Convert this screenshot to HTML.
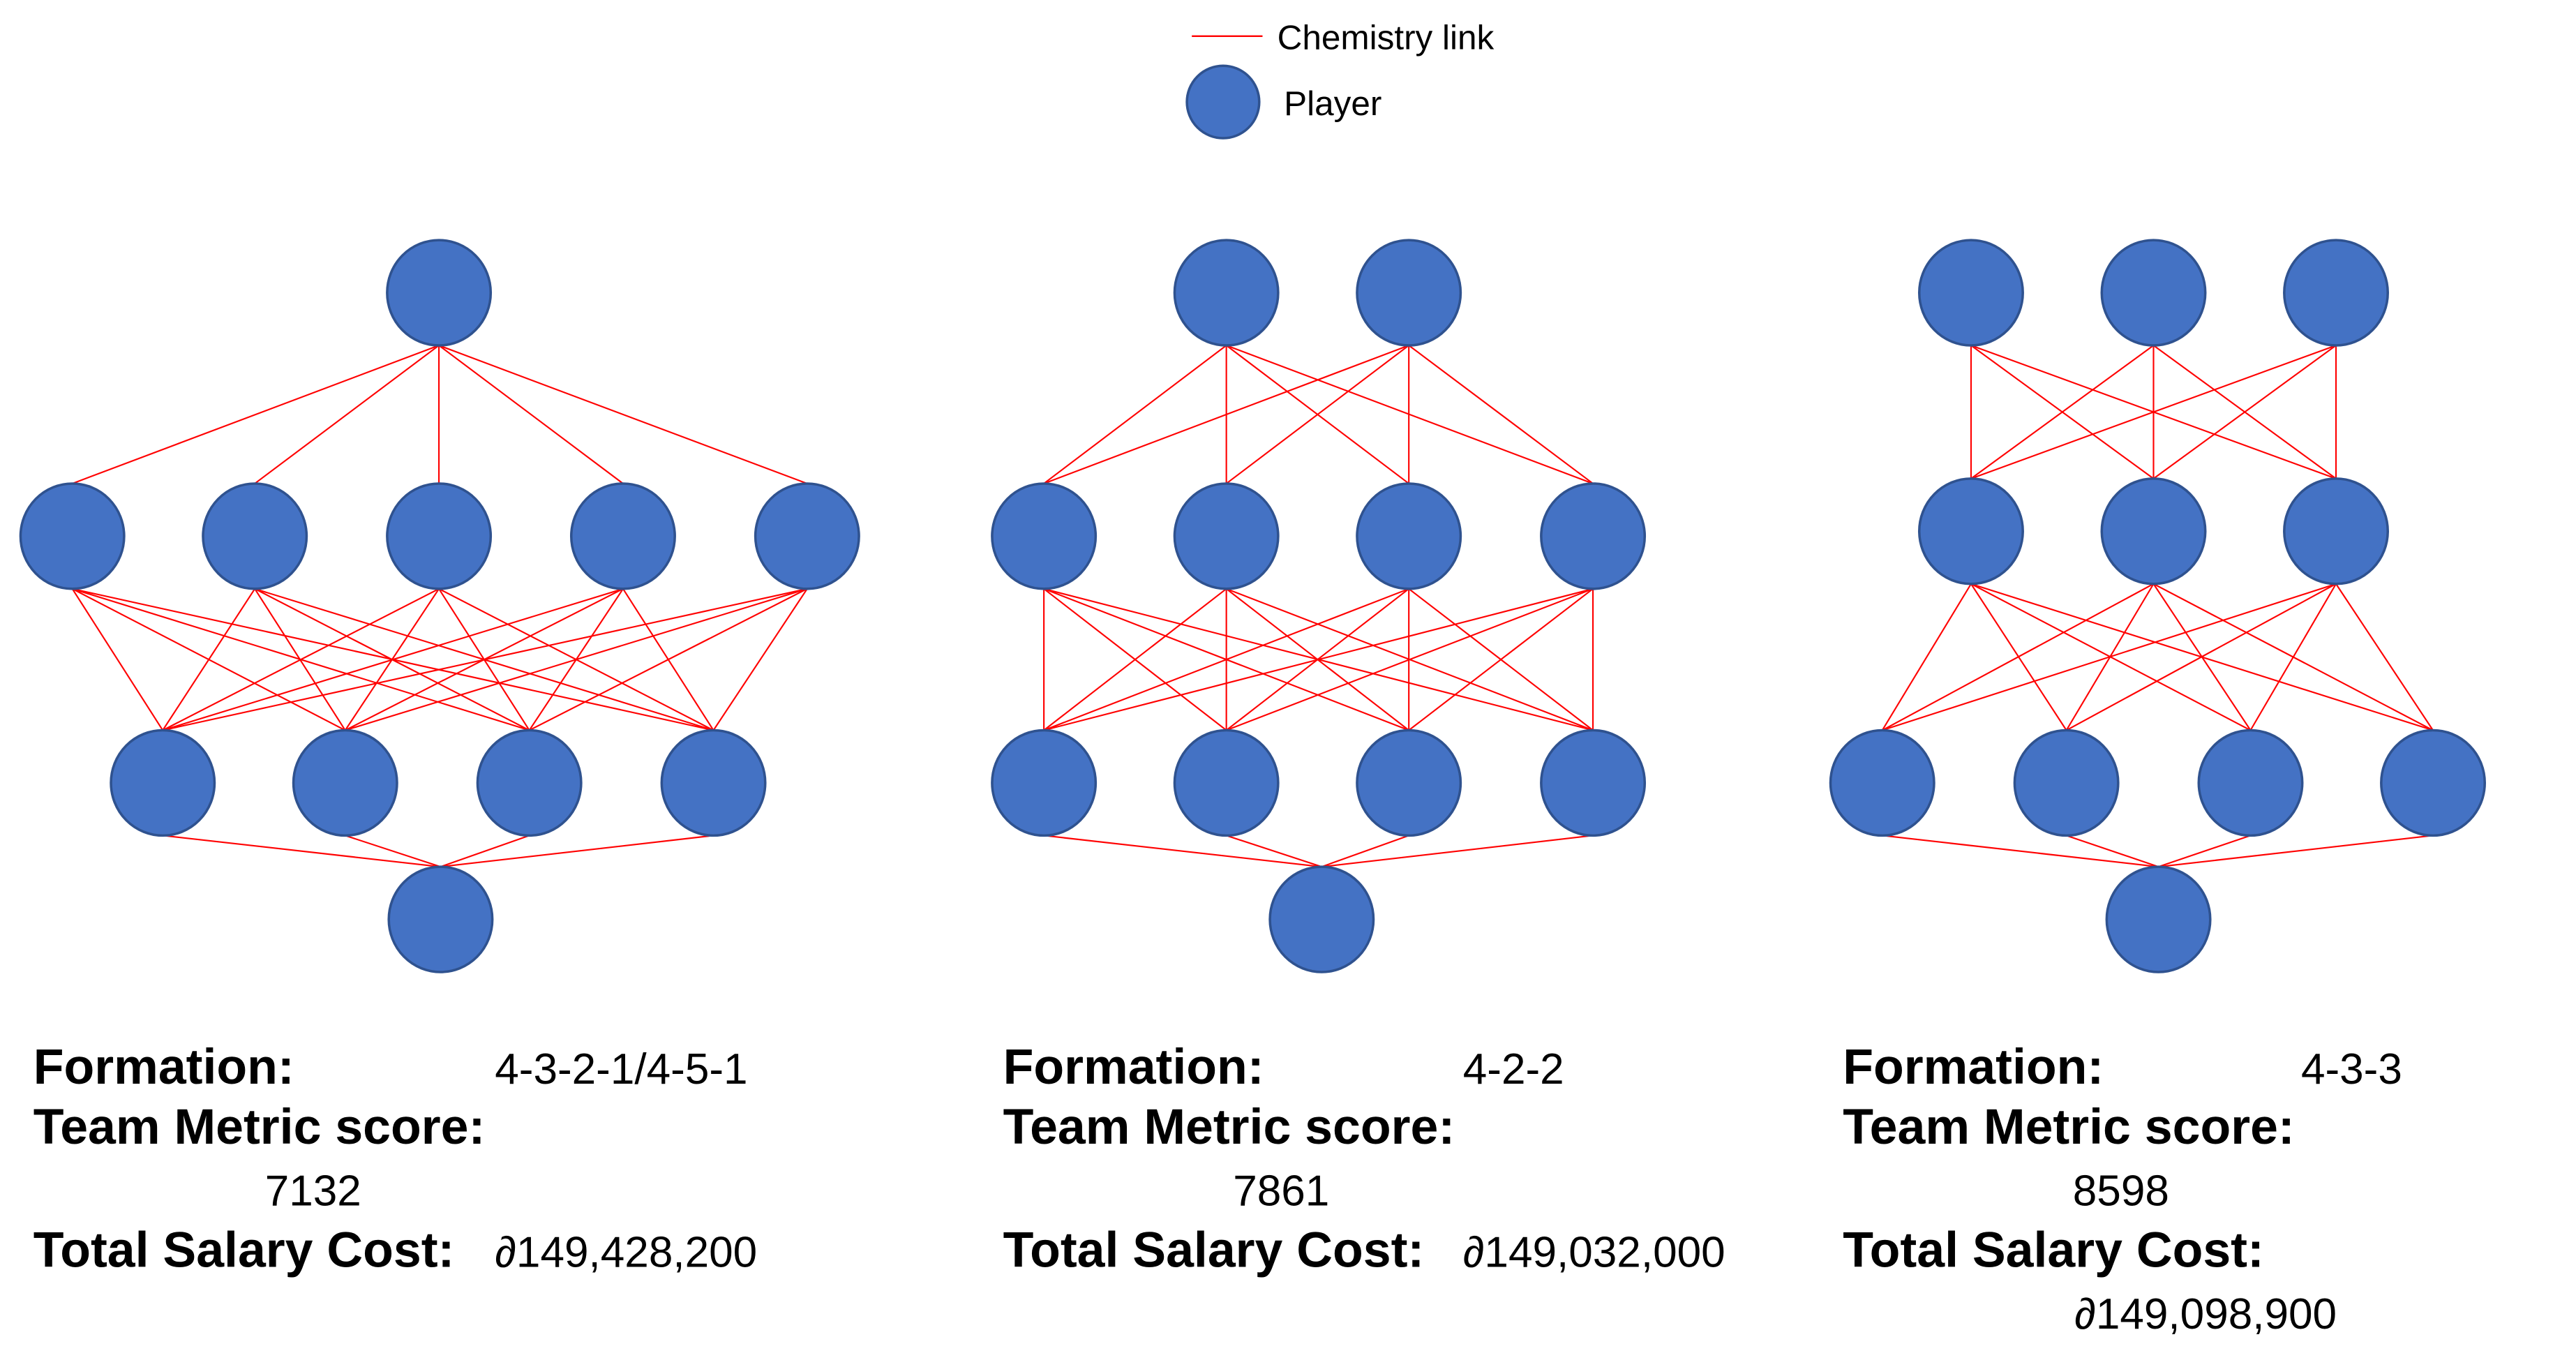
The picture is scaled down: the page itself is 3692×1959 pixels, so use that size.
<!DOCTYPE html>
<html><head><meta charset="utf-8"><style>
html,body{margin:0;padding:0;background:#fff}
svg{display:block}
</style></head><body>
<svg id="chart" width="3692" height="1959" viewBox="0 0 1546 820" preserveAspectRatio="none" xmlns="http://www.w3.org/2000/svg" font-family="Liberation Sans, Arial, sans-serif">
<g transform="scale(0.9866)">
<g>
<line x1="725" y1="22" x2="768" y2="22" stroke="#ff0000" stroke-width="1"/>
<text x="777" y="30" font-size="21">Chemistry link</text>
<ellipse cx="744" cy="62" rx="22" ry="22" fill="#4472C4" stroke="#2F528F" stroke-width="1.5"/>
<text x="781" y="70" font-size="21">Player</text>
</g>
<g id="nets"></g>
</g>
<g font-size="26">
<text x="20" y="650" font-weight="bold" font-size="30">Formation:</text><text x="297" y="650">4-3-2-1/4-5-1</text>
<text x="20" y="686" font-weight="bold" font-size="30">Team Metric score:</text>
<text x="159" y="723">7132</text>
<text x="20" y="760" font-weight="bold" font-size="30">Total Salary Cost:</text><text x="297" y="760">∂149,428,200</text>
</g>
<g font-size="26">
<text x="602" y="650" font-weight="bold" font-size="30">Formation:</text><text x="878" y="650">4-2-2</text>
<text x="602" y="686" font-weight="bold" font-size="30">Team Metric score:</text>
<text x="740" y="723">7861</text>
<text x="602" y="760" font-weight="bold" font-size="30">Total Salary Cost:</text><text x="878" y="760">∂149,032,000</text>
</g>
<g font-size="26">
<text x="1106" y="650" font-weight="bold" font-size="30">Formation:</text><text x="1381" y="650">4-3-3</text>
<text x="1106" y="686" font-weight="bold" font-size="30">Team Metric score:</text>
<text x="1244" y="723">8598</text>
<text x="1106" y="760" font-weight="bold" font-size="30">Total Salary Cost:</text>
<text x="1245" y="797">∂149,098,900</text>
</g>
</svg>
<script>
// Node x positions per row (top to bottom) for each formation
const net1Rows = [[267],[44,155,267,379,491],[99,210,322,434],[268]];
const net2Rows = [[746,857],[635,746,857,969],[635,746,857,969],[804]];
const net3Rows = [[1199,1310,1421],[1199,1310,1421],[1145,1257,1369,1480],[1313]];
const net1Y = [178,326,476,559];
const net2Y = [178,326,476,559];
const net3Y = [178,323,476,559];
const NS='http://www.w3.org/2000/svg';
const R=32;
const g=document.getElementById('nets');
function draw(rows, ys, idx){
  const grp=document.createElementNS(NS,'g');
  
  
  g.appendChild(grp);
  for(let r=0;r<rows.length-1;r++){
    rows[r].forEach(a=>{rows[r+1].forEach(b=>{
      const l=document.createElementNS(NS,'line');
      
      
      l.setAttribute('x1',a);l.setAttribute('y1',ys[r]+R);
      l.setAttribute('x2',b);l.setAttribute('y2',ys[r+1]-R);
      l.setAttribute('stroke','#ff0000');l.setAttribute('stroke-width','0.9');
      grp.appendChild(l);
    });});
  }
  rows.forEach((row,r)=>row.forEach(x=>{
    const c=document.createElementNS(NS,'ellipse');
    
    
    c.setAttribute('cx',x);c.setAttribute('cy',ys[r]);
    c.setAttribute('rx',R-0.5);c.setAttribute('ry',R);
    c.setAttribute('fill','#4472C4');c.setAttribute('stroke','#2F528F');c.setAttribute('stroke-width','1.5');
    grp.appendChild(c);
  }));
}
draw(net1Rows,net1Y,1);draw(net2Rows,net2Y,2);draw(net3Rows,net3Y,3);
</script>
</body></html>
